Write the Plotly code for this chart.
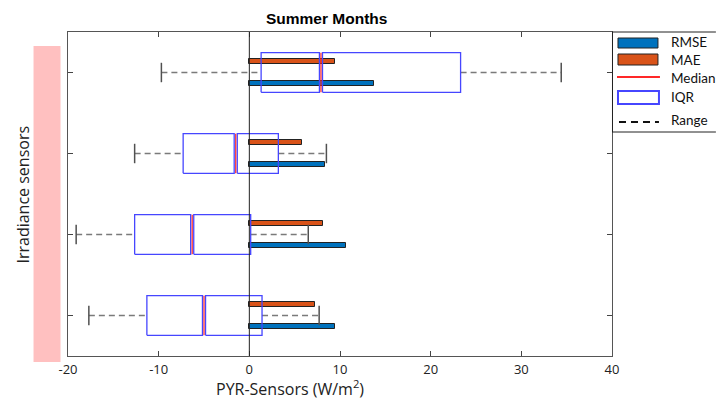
import plotly.graph_objects as go

# ---- data (top group first) ----
positions = [4, 3, 2, 1]
q1 = [1.3, -7.3, -12.65, -11.3]
median = [7.9, -1.5, -6.3, -5.0]
q3 = [23.3, 3.2, 0.15, 1.4]
lower_fence = [-9.7, -12.65, -19.1, -17.7]
upper_fence = [34.4, 8.5, 6.5, 7.7]
mae = [9.4, 5.8, 8.1, 7.2]
rmse = [13.8, 8.3, 10.7, 9.4]
x_ticks = [-20, -10, 0, 10, 20, 30, 40]
legend_labels = ["RMSE", "MAE", "Median", "IQR", "Range"]

BLUE_BAR = "#0072BD"
ORANGE_BAR = "#D95319"
BOX_BLUE = "rgb(70,70,255)"
MED_RED = "rgb(255,40,40)"

BOX_HALF = 0.245
NOTCH = 0.17
CAP_HALF = 0.12
BAR_OFF = 0.14
BAR_W = 0.065

fig = go.Figure()

# whiskers (dashed)
wx, wy = [], []
for p, lo, a, b, hi in zip(positions, lower_fence, q1, q3, upper_fence):
    wx += [lo, a, None, b, hi, None]
    wy += [p, p, None, p, p, None]
fig.add_trace(go.Scatter(x=wx, y=wy, mode="lines", showlegend=False, hoverinfo="skip",
                         line=dict(color="#7a7a7a", width=1.5, dash="6px,4px")))
# caps
cx, cy = [], []
for p, lo, hi in zip(positions, lower_fence, upper_fence):
    cx += [lo, lo, None, hi, hi, None]
    cy += [p - CAP_HALF, p + CAP_HALF, None, p - CAP_HALF, p + CAP_HALF, None]
fig.add_trace(go.Scatter(x=cx, y=cy, mode="lines", showlegend=False, hoverinfo="skip",
                         line=dict(color="#505050", width=1.5)))
# boxes (two halves split at median)
bx, by = [], []
for p, a, m, b in zip(positions, q1, median, q3):
    for l, r in [(a, m - NOTCH), (m + NOTCH, b)]:
        bx += [l, r, r, l, l, None]
        by += [p - BOX_HALF, p - BOX_HALF, p + BOX_HALF, p + BOX_HALF, p - BOX_HALF, None]
fig.add_trace(go.Scatter(x=bx, y=by, mode="lines", showlegend=False, hoverinfo="skip",
                         line=dict(color=BOX_BLUE, width=1.3)))
# medians
mx, my = [], []
for p, m in zip(positions, median):
    mx += [m, m, None]
    my += [p - BOX_HALF, p + BOX_HALF, None]
fig.add_trace(go.Scatter(x=mx, y=my, mode="lines", showlegend=False, hoverinfo="skip",
                         line=dict(color=MED_RED, width=1.2)))

# bars
fig.add_trace(go.Bar(x=mae, y=[p + BAR_OFF for p in positions], base=0, orientation="h",
                     width=BAR_W, marker=dict(color=ORANGE_BAR, line=dict(color="#222", width=1)),
                     showlegend=False))
fig.add_trace(go.Bar(x=rmse, y=[p - BAR_OFF for p in positions], base=0, orientation="h",
                     width=BAR_W, marker=dict(color=BLUE_BAR, line=dict(color="#222", width=1)),
                     showlegend=False))

# plot geometry in px for paper conversions
L, R, T, B = 67.5, 612.0, 32.0, 356.0
W, H = R - L, B - T
def px(xp):
    return (xp - L) / W
def py(yp):
    return (B - yp) / H

shapes = []
# zero line
shapes.append(dict(type="line", xref="x", yref="paper", x0=0, x1=0, y0=0, y1=1,
                   line=dict(color="#222", width=1), layer="above"))
# pink bar
shapes.append(dict(type="rect", xref="paper", yref="paper", x0=px(33), x1=px(60), y0=py(362), y1=py(46),
                   fillcolor="#FFC0C0", line=dict(width=0), layer="below"))
# legend frame
shapes.append(dict(type="line", xref="paper", yref="paper", x0=px(612), x1=px(716), y0=py(32), y1=py(32),
                   line=dict(color="#222", width=1)))
shapes.append(dict(type="line", xref="paper", yref="paper", x0=px(612), x1=px(716), y0=py(132), y1=py(132),
                   line=dict(color="#222", width=1)))
shapes.append(dict(type="line", xref="paper", yref="paper", x0=px(612.5), x1=px(612.5), y0=py(132), y1=py(32),
                   line=dict(color="#222", width=1)))
# legend swatches
shapes.append(dict(type="rect", xref="paper", yref="paper", x0=px(618), x1=px(658), y0=py(48), y1=py(38),
                   fillcolor=BLUE_BAR, line=dict(color="#222", width=1)))
shapes.append(dict(type="rect", xref="paper", yref="paper", x0=px(618), x1=px(658), y0=py(65), y1=py(54),
                   fillcolor=ORANGE_BAR, line=dict(color="#222", width=1)))
shapes.append(dict(type="line", xref="paper", yref="paper", x0=px(617), x1=px(660), y0=py(77), y1=py(77),
                   line=dict(color=MED_RED, width=2)))
shapes.append(dict(type="rect", xref="paper", yref="paper", x0=px(618), x1=px(659), y0=py(104), y1=py(91),
                   fillcolor="white", line=dict(color=BOX_BLUE, width=2)))
shapes.append(dict(type="line", xref="paper", yref="paper", x0=px(619), x1=px(659), y0=py(122), y1=py(122),
                   line=dict(color="#111", width=2, dash="7px,5px")))

annotations = []
leg_y = [42, 60, 78, 97, 120]
for lab, yy in zip(legend_labels, leg_y):
    annotations.append(dict(text=lab, xref="paper", yref="paper", x=px(669), y=py(yy),
                            xanchor="left", yanchor="middle", showarrow=False,
                            font=dict(family="Lato", size=13.5, color="#111")))
annotations.append(dict(text="Summer Months", xref="paper", yref="paper", x=px(326), y=py(18),
                        xanchor="center", yanchor="middle", showarrow=False,
                        font=dict(family="Liberation Sans", size=15.5, color="#000", weight="bold")))
annotations.append(dict(text="PYR-Sensors (W/m<sup>2</sup>)", xref="paper", yref="paper", x=px(290), y=py(388.5),
                        xanchor="center", yanchor="middle", showarrow=False, borderpad=0,
                        font=dict(family="Open Sans", size=16, color="#222")))
annotations.append(dict(text="Irradiance sensors", xref="paper", yref="paper", x=px(22), y=py(195),
                        xanchor="center", yanchor="middle", showarrow=False, textangle=-90,
                        font=dict(family="Open Sans", size=16, color="#222")))

fig.update_layout(
    width=716, height=401,
    margin=dict(l=L, r=716 - R, t=T, b=401 - B, pad=0),
    paper_bgcolor="white", plot_bgcolor="white",
    shapes=shapes, annotations=annotations, showlegend=False,
    bargap=0,
    xaxis=dict(range=[-20, 40], tickvals=x_ticks, ticktext=[str(v) for v in x_ticks],
               ticks="inside", ticklen=5, tickcolor="#444", showgrid=False, zeroline=False,
               showline=True, linecolor="#555", linewidth=1, mirror="ticks",
               ticklabelstandoff=1,
               tickfont=dict(family="Open Sans", size=13, color="#222")),
    yaxis=dict(range=[0.5, 4.5], tickvals=positions, showticklabels=False,
               ticks="inside", ticklen=5, tickcolor="#444", showgrid=False, zeroline=False,
               showline=True, linecolor="#555", linewidth=1, mirror="ticks"),
)

fig.write_html("out.html", config={"displayModeBar": False},
               post_script="document.body.style.margin='0';document.body.style.overflow='hidden';")
